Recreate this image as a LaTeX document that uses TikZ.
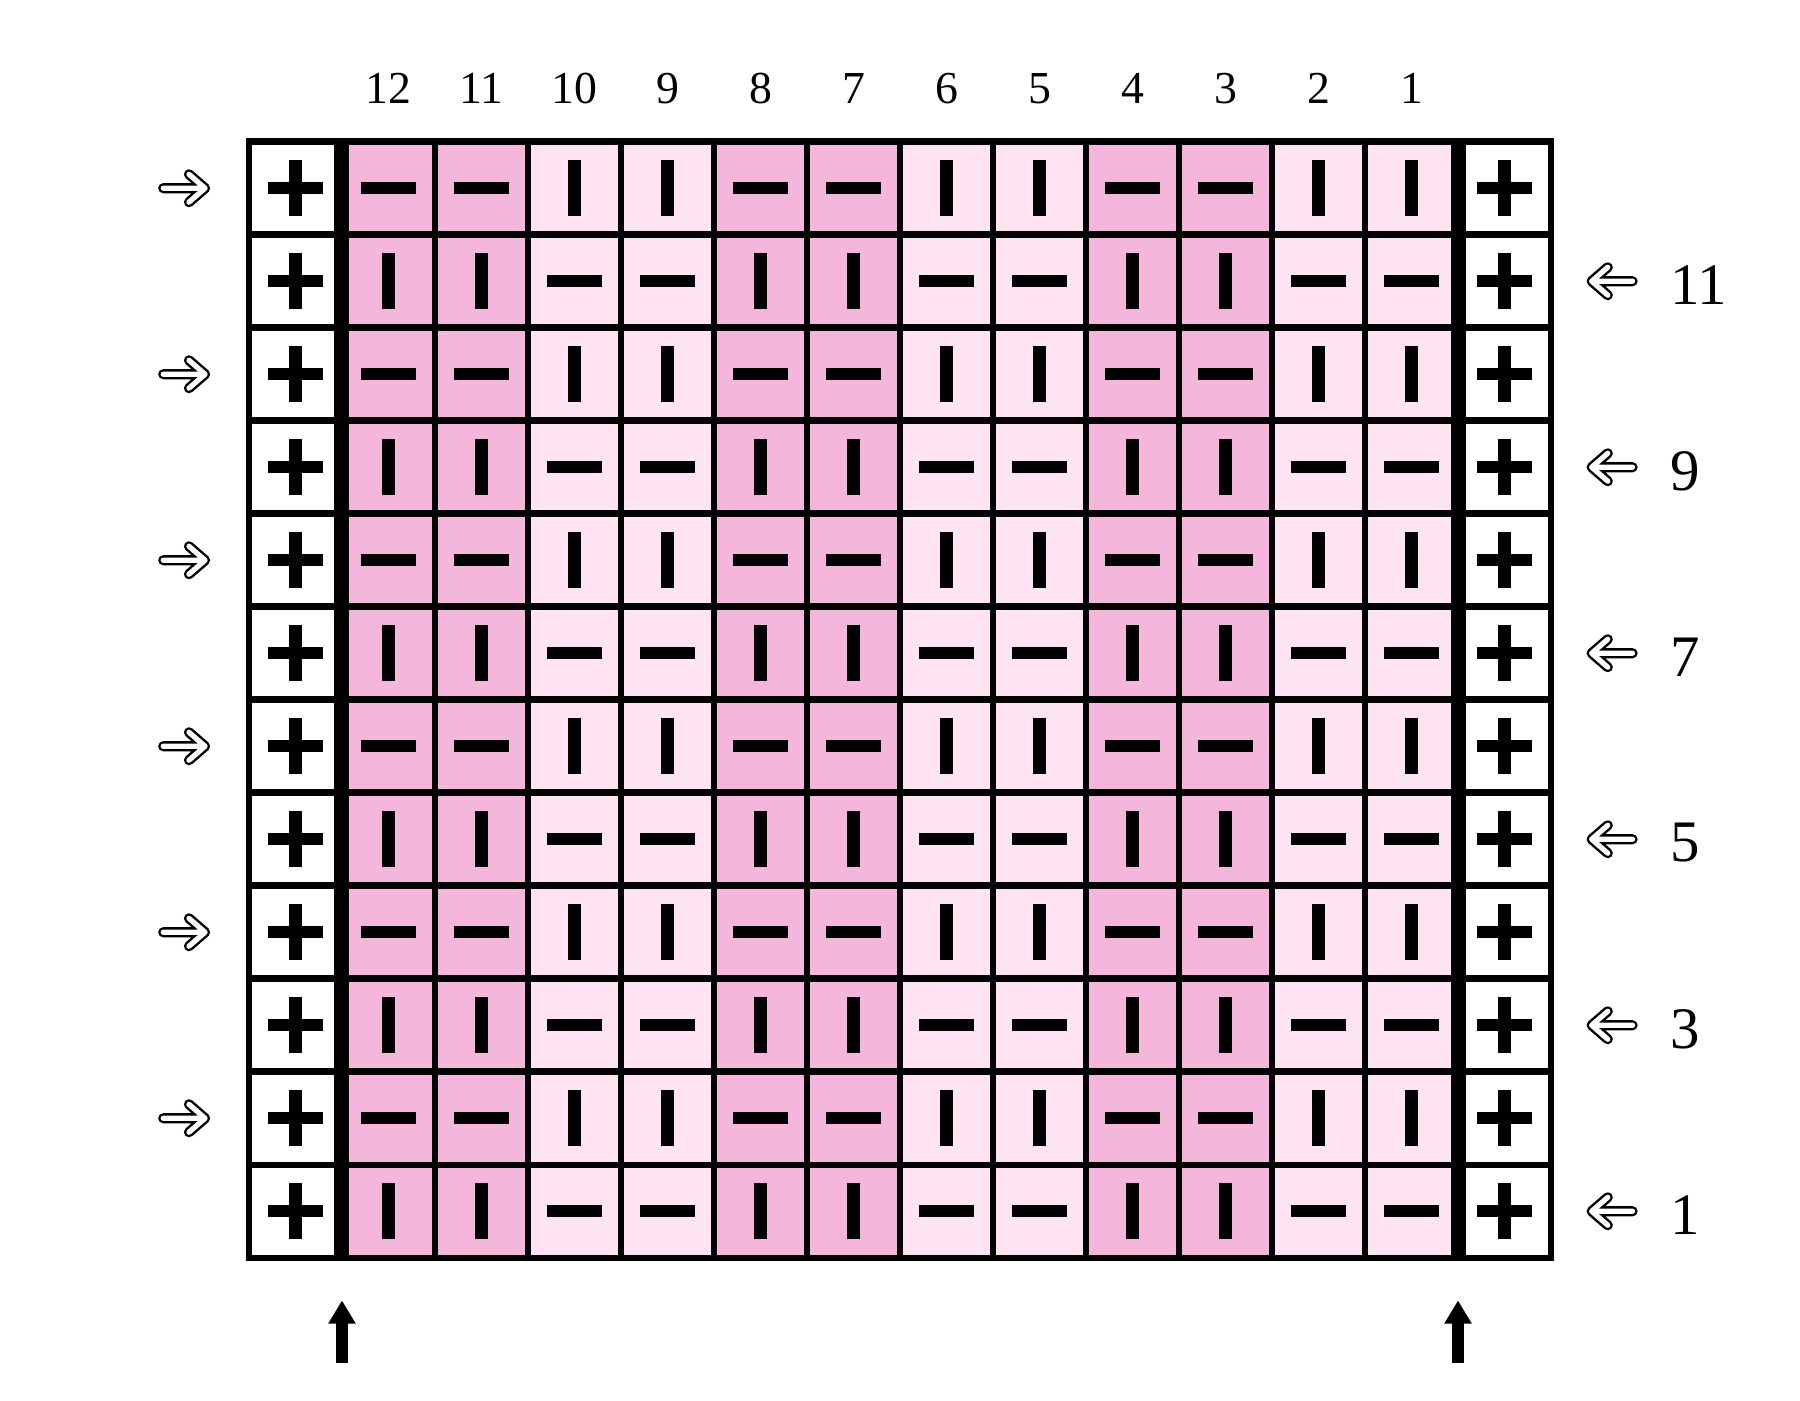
\documentclass[tikz,border=0pt]{standalone}
\usepackage{fontspec}
\setmainfont{Liberation Serif}
\usepackage{xcolor}
\usetikzlibrary{arrows.meta}
\definecolor{pinkdark}{RGB}{244,182,218}
\definecolor{pinklight}{RGB}{254,228,242}

\begin{document}
\begin{tikzpicture}[
  cell/.style={minimum size=1cm, inner sep=0pt, outer sep=0pt},
  hbar/.style={fill=black, minimum width=0.6cm, minimum height=0.13cm, inner sep=0pt},
  vbar/.style={fill=black, minimum width=0.13cm, minimum height=0.6cm, inner sep=0pt},
  rowarr/.style={double, double distance=1.6pt, line width=0.75pt, line cap=round, line join=round},
  uparr/.style={-{Triangle[width=0.28cm, length=0.25cm]}, line width=0.126cm},
  collbl/.style={font=\fontsize{14}{16}\selectfont, inner sep=0pt},
  rowlbl/.style={font=\fontsize{18}{20}\selectfont, anchor=west, inner sep=0pt},
]
\useasboundingbox (-2.677,-1.534) rectangle (16.677,13.524);

% stitch cells
\foreach \r in {1,...,12}{
  \foreach \c in {1,...,12}{
    \pgfmathtruncatemacro{\g}{mod(floor((\c-1)/2),2)}
    \pgfmathtruncatemacro{\s}{mod(\g+\r,2)}
    \ifnum\g=0 \def\cellcol{pinkdark}\else\def\cellcol{pinklight}\fi
    \node[cell, fill=\cellcol] (c-\c-\r) at (\c+0.5,\r-0.5) {};
    \ifnum\s=1
      \node[vbar] (s-\c-\r) at (c-\c-\r) {};
    \else
      \node[hbar] (s-\c-\r) at (c-\c-\r) {};
    \fi
  }
  % edge stitches
  \node[cell] (el-\r) at (0.5,\r-0.5) {};
  \node[hbar] (elh-\r) at (el-\r) {};
  \node[vbar] (elv-\r) at (el-\r) {};
  \node[cell] (er-\r) at (13.5,\r-0.5) {};
  \node[hbar] (erh-\r) at (er-\r) {};
  \node[vbar] (erv-\r) at (er-\r) {};
}

\draw[line width=2pt] (0,0) grid (14,12);
\draw[line width=2pt] (0,0) rectangle (14,12);
\draw[line width=4.6pt] (1,0) -- (1,12);
\draw[line width=4.6pt] (13,0) -- (13,12);

% column numbers
\foreach \c in {1,...,12}{
  \pgfmathtruncatemacro{\n}{13-\c}
  \node[collbl] (k-\n) at (\c+0.5,12.57) {\n};
}

% right side rows
\foreach \r in {1,3,...,11}{
  \coordinate (rt-\r) at (14.437,\r-0.5);
  \draw[rowarr] ([xshift=0.44cm]rt-\r) -- (rt-\r)
    ([shift={(0.173,0.15)}]rt-\r) -- (rt-\r) -- ([shift={(0.173,-0.15)}]rt-\r);
  \node[rowlbl] (rn-\r) at (15.28,\r-0.54) {\r};
}

% left side rows
\foreach \r in {2,4,...,12}{
  \coordinate (lt-\r) at (-0.472,\r-0.5);
  \draw[rowarr] ([xshift=-0.45cm]lt-\r) -- (lt-\r)
    ([shift={(-0.173,0.15)}]lt-\r) -- (lt-\r) -- ([shift={(-0.173,-0.15)}]lt-\r);
}

% edge markers
\coordinate (ua-l) at (1,-1.133);
\coordinate (ub-l) at (1,-0.459);
\coordinate (ua-r) at (13,-1.133);
\coordinate (ub-r) at (13,-0.459);
\draw[uparr] (ua-l) -- (ub-l);
\draw[uparr] (ua-r) -- (ub-r);
\end{tikzpicture}
\end{document}
